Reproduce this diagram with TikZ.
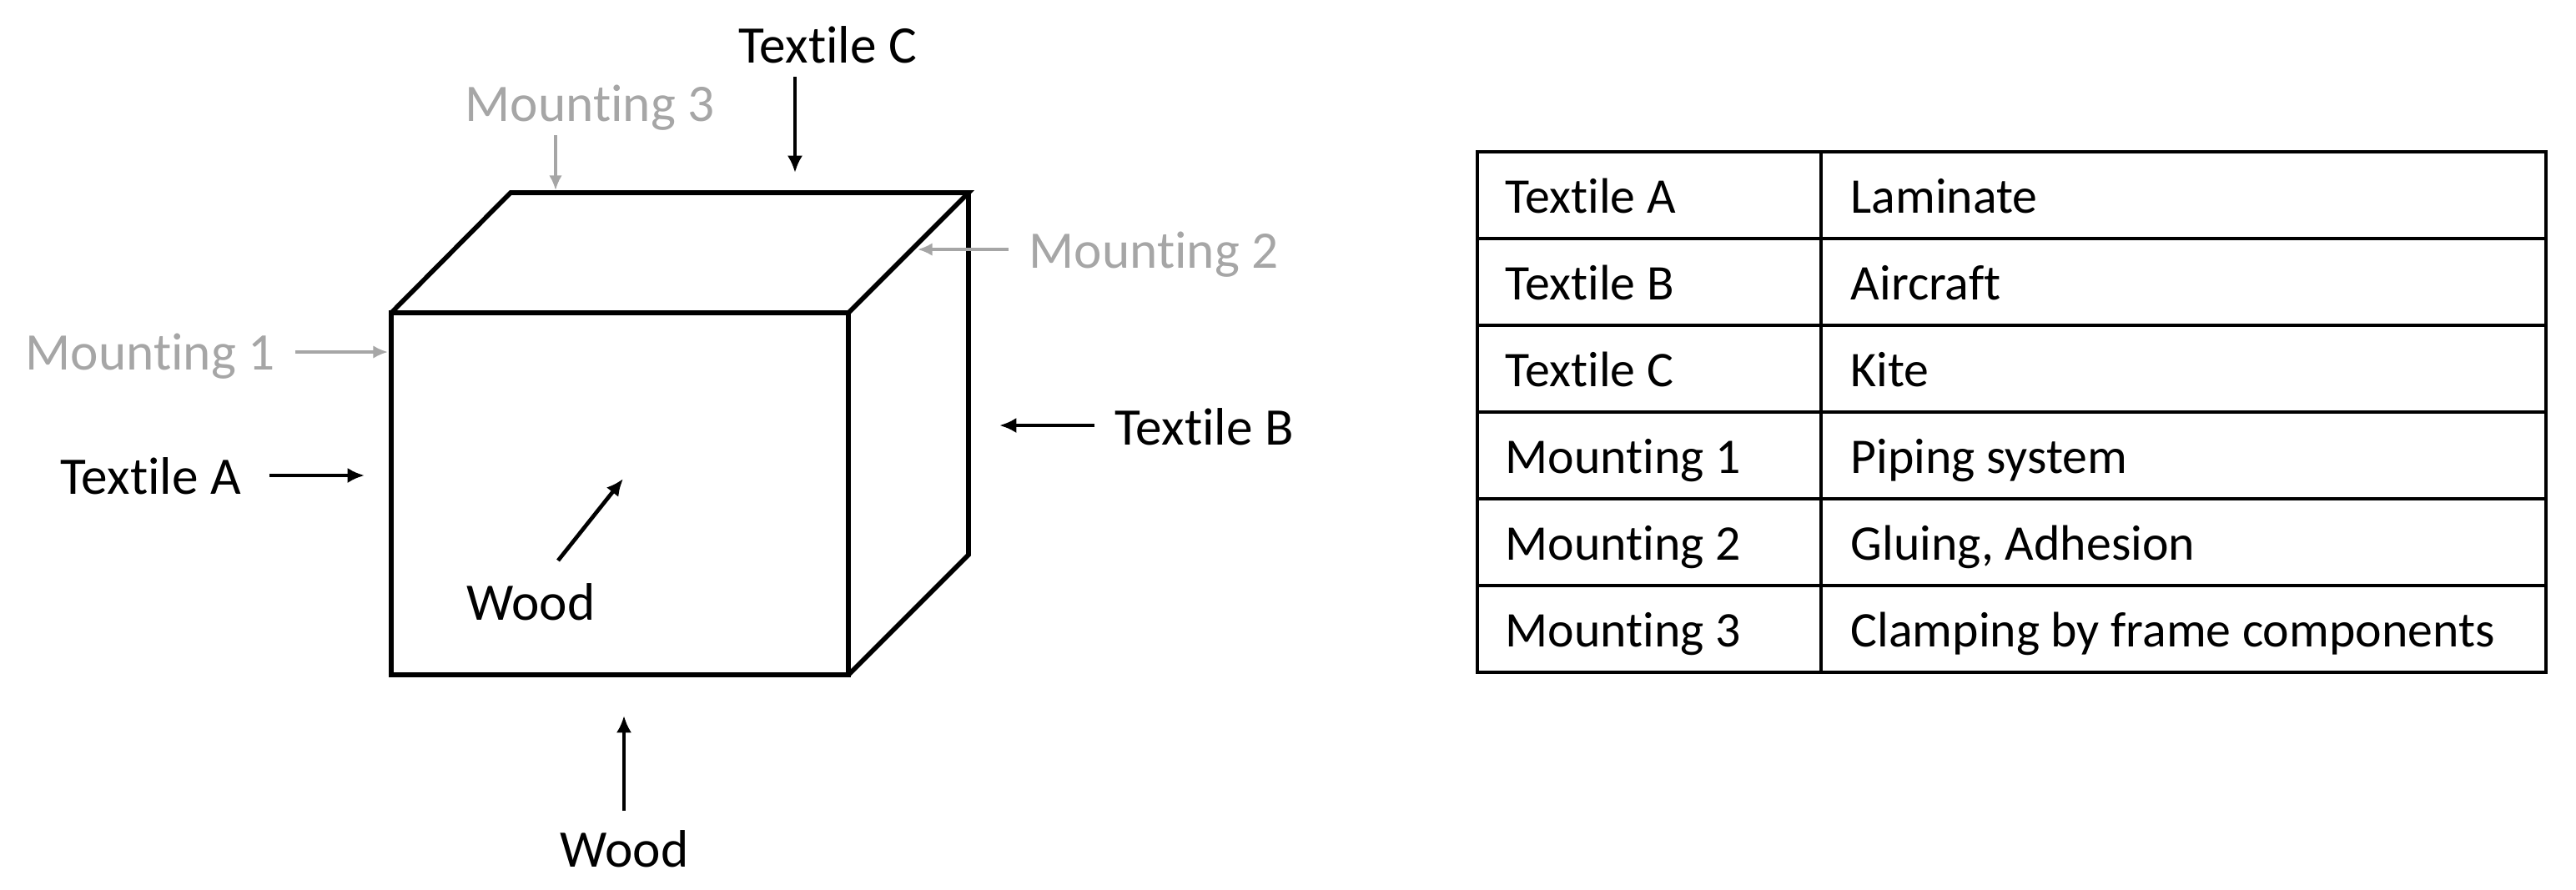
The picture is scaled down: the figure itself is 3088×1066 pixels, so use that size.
\documentclass[tikz,border=0pt]{standalone}
\usepackage{fontspec}
\setmainfont[Ligatures=NoCommon]{Carlito}
\usetikzlibrary{arrows.meta}
\definecolor{mountgray}{HTML}{A6A6A6}

\begin{document}
\begin{tikzpicture}[x=0.01cm,y=-0.01cm,>=Latex]
  \tikzstyle{lbl}=[anchor=base west,inner sep=0pt,font=\fontsize{18}{21}\selectfont]
  \tikzstyle{cell}=[anchor=base west,inner sep=0pt,font=\fontsize{17}{20}\selectfont]
  \tikzstyle{edge}=[line width=1.6pt,line join=miter]
  \tikzstyle{grid}=[line width=1.1pt]
  \tikzstyle{feed}=[-{Latex[length=5.8pt,width=5.2pt]},line width=1.35pt]
  \tikzstyle{mount}=[-{Latex[length=5pt,width=4.4pt]},line width=0.9pt,draw=mountgray]
  \useasboundingbox (0,0) rectangle (3088,1066);

  % cube
  \coordinate (ftl) at (469,375);
  \coordinate (ftr) at (1017,375);
  \coordinate (fbr) at (1017,809);
  \coordinate (btl) at (612,231);
  \coordinate (btr) at (1161,231);
  \coordinate (bbr) at (1161,665);
  \draw[edge] (ftl) rectangle (fbr);
  \draw[edge] (ftl) -- (btl) -- (btr) -- (ftr);
  \draw[edge] (btr) -- (bbr) -- (fbr);

  % labels round the cube
  \node[lbl] (txA) at (72,592) {Textile A};
  \node[lbl,text=mountgray] (mt1) at (30,443) {Mounting 1};
  \node[lbl] (txC) at (885,75) {Textile C};
  \node[lbl,text=mountgray] (mt3) at (557,145) {Mounting 3};
  \node[lbl,text=mountgray] (mt2) at (1233,321) {Mounting 2};
  \node[lbl] (txB) at (1336,533) {Textile B};
  \node[lbl] (woodin) at (559,743) {Wood};
  \node[lbl] (woodout) at (671,1039) {Wood};

  % arrow ends
  \coordinate (tA0) at (323,570);  \coordinate (tA1) at (437,570);
  \coordinate (m10) at (354,422);  \coordinate (m11) at (465,422);
  \coordinate (tC0) at (953,92);   \coordinate (tC1) at (953,207);
  \coordinate (m30) at (666,162);  \coordinate (m31) at (666,228);
  \coordinate (m20) at (1209,299); \coordinate (m21) at (1100,299);
  \coordinate (tB0) at (1312,510); \coordinate (tB1) at (1198,510);
  \coordinate (wi0) at (669,672);  \coordinate (wi1) at (747,574);
  \coordinate (wo0) at (748,972);  \coordinate (wo1) at (748,858);
  \draw[feed] (tA0) -- (tA1);
  \draw[feed] (tC0) -- (tC1);
  \draw[feed] (tB0) -- (tB1);
  \draw[feed] (wi0) -- (wi1);
  \draw[feed] (wo0) -- (wo1);
  \draw[mount] (m10) -- (m11);
  \draw[mount] (m30) -- (m31);
  \draw[mount] (m20) -- (m21);

  % table
  \draw[grid] (1771,182) rectangle (3052,806);
  \draw[grid] (2183,182) -- (2183,806);
  \draw[grid] (1771,286) -- (3052,286);
  \draw[grid] (1771,390) -- (3052,390);
  \draw[grid] (1771,494) -- (3052,494);
  \draw[grid] (1771,598) -- (3052,598);
  \draw[grid] (1771,702) -- (3052,702);
  \node[cell] (k1) at (1804,255) {Textile A};
  \node[cell] (v1) at (2218,255) {Laminate};
  \node[cell] (k2) at (1804,359) {Textile B};
  \node[cell] (v2) at (2218,359) {Aircraft};
  \node[cell] (k3) at (1804,463) {Textile C};
  \node[cell] (v3) at (2218,463) {Kite};
  \node[cell] (k4) at (1804,567) {Mounting 1};
  \node[cell] (v4) at (2218,567) {Piping system};
  \node[cell] (k5) at (1804,671) {Mounting 2};
  \node[cell] (v5) at (2218,671) {Gluing, Adhesion};
  \node[cell] (k6) at (1804,775) {Mounting 3};
  \node[cell] (v6) at (2218,775) {Clamping by frame components};
\end{tikzpicture}
\end{document}
